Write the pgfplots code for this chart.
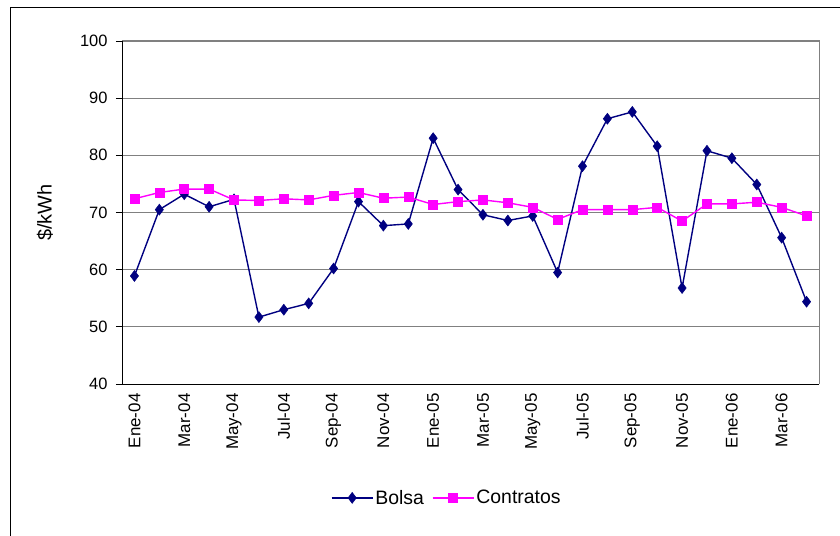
\documentclass[border=0pt]{standalone}
\usepackage{pgfplots}
\pgfplotsset{compat=1.18}
\usepackage{fontspec}
\setmainfont{Liberation Sans}
\definecolor{bolsa}{HTML}{000080}
\definecolor{contr}{HTML}{FF00FF}
\definecolor{gridc}{HTML}{808080}
\begin{document}
\begin{tikzpicture}
\useasboundingbox (-122bp,-152bp) rectangle (718bp,384bp);
\begin{axis}[
  scale only axis,
  width=697bp, height=343bp,
  xmin=-0.5, xmax=27.5,
  ymin=40, ymax=100,
  ytick={40,50,...,100},
  xtick={0,2,...,26},
  xticklabels={Ene-04,Mar-04,May-04,Jul-04,Sep-04,Nov-04,Ene-05,Mar-05,May-05,Jul-05,Sep-05,Nov-05,Ene-06,Mar-06},
  xtick style={draw=none},
  extra x ticks={-0.5,1.5,...,27.5},
  extra x tick labels={},
  extra x tick style={grid=none, major tick length=5bp, tick style={draw=black, line width=0.8bp}},
  ytick pos=left,
  tick align=outside,
  major tick length=6bp,
  ytick style={draw=black, line width=0.8bp},
  ymajorgrids,
  grid style={draw=gridc, line width=0.9bp},
  axis line style={draw=none},
  /pgf/number format/assume math mode=true,
  yticklabel style={font=\fontsize{16.5}{16.5}\selectfont, xshift=-5bp},
  xticklabel style={font=\fontsize{17}{17}\selectfont, rotate=90, anchor=east, yshift=0bp},
  every axis y label/.style={at={(axis description cs:-0.1105,0.5)}, rotate=90, anchor=center, font=\fontsize{20}{20}\selectfont},
  ylabel={\$/kWh},
  legend columns=2,
  legend style={draw=none, fill=none, at={(axis description cs:0.466,-0.332)}, anchor=center, font=\fontsize{19.5}{19.5}\selectfont, /tikz/every even column/.append style={column sep=6bp}},
  legend image code/.code={\draw[mark repeat=2, mark phase=2] plot coordinates {(0bp,0bp) (20.5bp,0bp) (41bp,0bp)};},
  clip=false,
]
\addplot[color=bolsa, line width=1.4bp, mark=diamond*, mark size=5.5bp, mark options={fill=bolsa, draw=bolsa, line width=0.5bp}] coordinates {
(0,58.9) (1,70.5) (2,73.2) (3,71.0) (4,72.3) (5,51.7) (6,53.0) (7,54.1)
(8,60.2) (9,71.9) (10,67.7) (11,68.0) (12,83.0) (13,74.0) (14,69.6) (15,68.6)
(16,69.4) (17,59.5) (18,78.1) (19,86.4) (20,87.6) (21,81.6) (22,56.8) (23,80.8)
(24,79.5) (25,74.9) (26,65.6) (27,54.4)};
\addlegendentry{Bolsa}
\addplot[color=contr, line width=1.4bp, mark=square*, mark size=4.5bp, mark options={fill=contr, draw=contr, line width=0.5bp}] coordinates {
(0,72.4) (1,73.5) (2,74.1) (3,74.1) (4,72.2) (5,72.1) (6,72.4) (7,72.2)
(8,73.0) (9,73.5) (10,72.5) (11,72.7) (12,71.4) (13,71.9) (14,72.2) (15,71.7)
(16,70.9) (17,68.8) (18,70.5) (19,70.5) (20,70.5) (21,70.9) (22,68.5) (23,71.5)
(24,71.5) (25,71.8) (26,70.9) (27,69.4)};
\addlegendentry{Contratos}
\end{axis}
\draw[gridc, line width=1bp] (0bp,343bp) -- (697bp,343bp) -- (697bp,0bp);
\draw[black, line width=1bp] (0bp,343bp) -- (0bp,0bp) -- (697bp,0bp);
\draw[black, line width=1bp] (-111bp,-200bp) -- (-111bp,376bp) -- (760bp,376bp);
\end{tikzpicture}
\end{document}
